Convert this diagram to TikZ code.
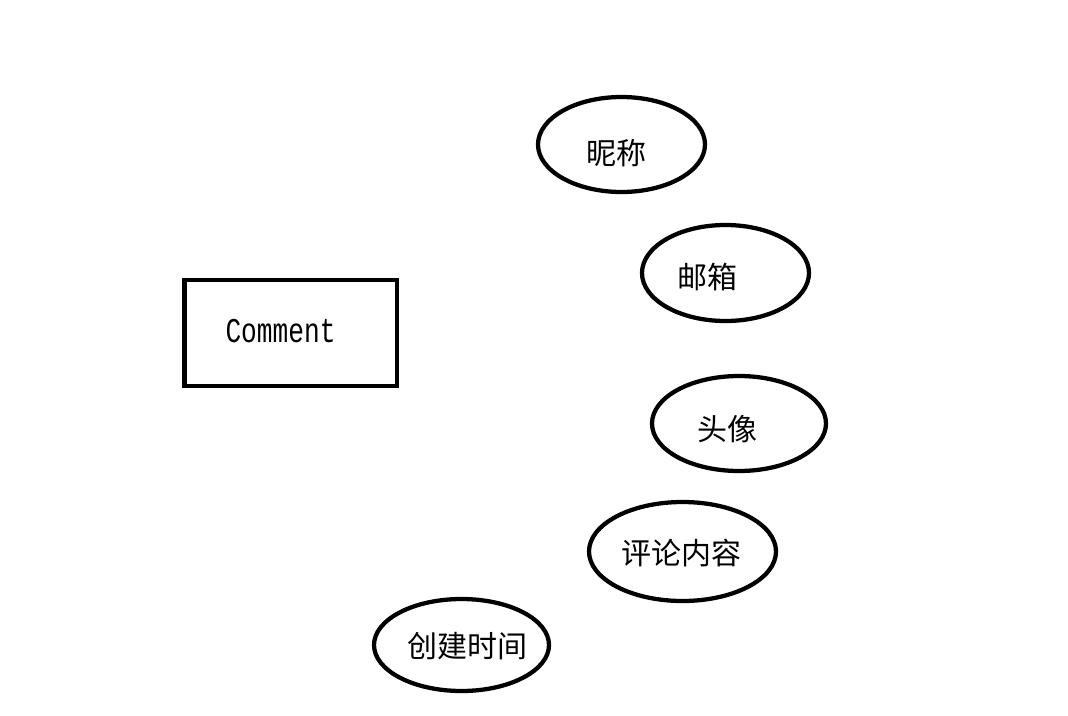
\documentclass[tikz,border=0pt]{standalone}
\usepackage{fontspec}
\setmainfont{Noto Sans CJK SC}
\newfontfamily\cjk{Noto Sans CJK SC}
\newfontfamily\entfont[FakeStretch=0.755]{Liberation Mono}
\usetikzlibrary{shapes.geometric}
\begin{document}
\begin{tikzpicture}[x=0.75pt,y=-0.75pt,
    entity/.style={draw,line width=3.2pt,rectangle,inner sep=0pt},
    attr/.style={draw,line width=3.2pt,ellipse,inner sep=0pt},
    attrtext/.style={inner sep=0pt,font=\cjk\fontsize{22.5pt}{24pt}\selectfont}]
                \useasboundingbox (0,0) rectangle (1068,715);

                \node[entity,minimum width=159.15pt,minimum height=79.6pt] (comment) at (290.6,332.75) {};
                \node[inner sep=0pt,font=\entfont\fontsize{26pt}{28pt}\selectfont] (commentlabel) at (280.5,331) {Comment};

                \node[attr,minimum width=125.25pt,minimum height=71.25pt] (nick)    at (621.5,144.5) {};
                \node[attr,minimum width=125.25pt,minimum height=72pt]    (mail)    at (725.5,273)   {};
                \node[attr,minimum width=130.5pt,minimum height=71.25pt]  (avatar)  at (739,423.5)   {};
                \node[attr,minimum width=140.25pt,minimum height=74.25pt] (content) at (682.5,551.5) {};
                \node[attr,minimum width=131.25pt,minimum height=69pt]    (time)    at (461.5,645)   {};

                \node[attrtext] (nicklabel)    at (616,153)     {昵称};
                \node[attrtext] (maillabel)    at (707.5,277.5) {邮箱};
                \node[attrtext] (avatarlabel)  at (727,429)     {头像};
                \node[attrtext] (contentlabel) at (681,553.5)   {评论内容};
                \node[attrtext] (timelabel)    at (467,646.5)   {创建时间};
            \end{tikzpicture}
\end{document}
